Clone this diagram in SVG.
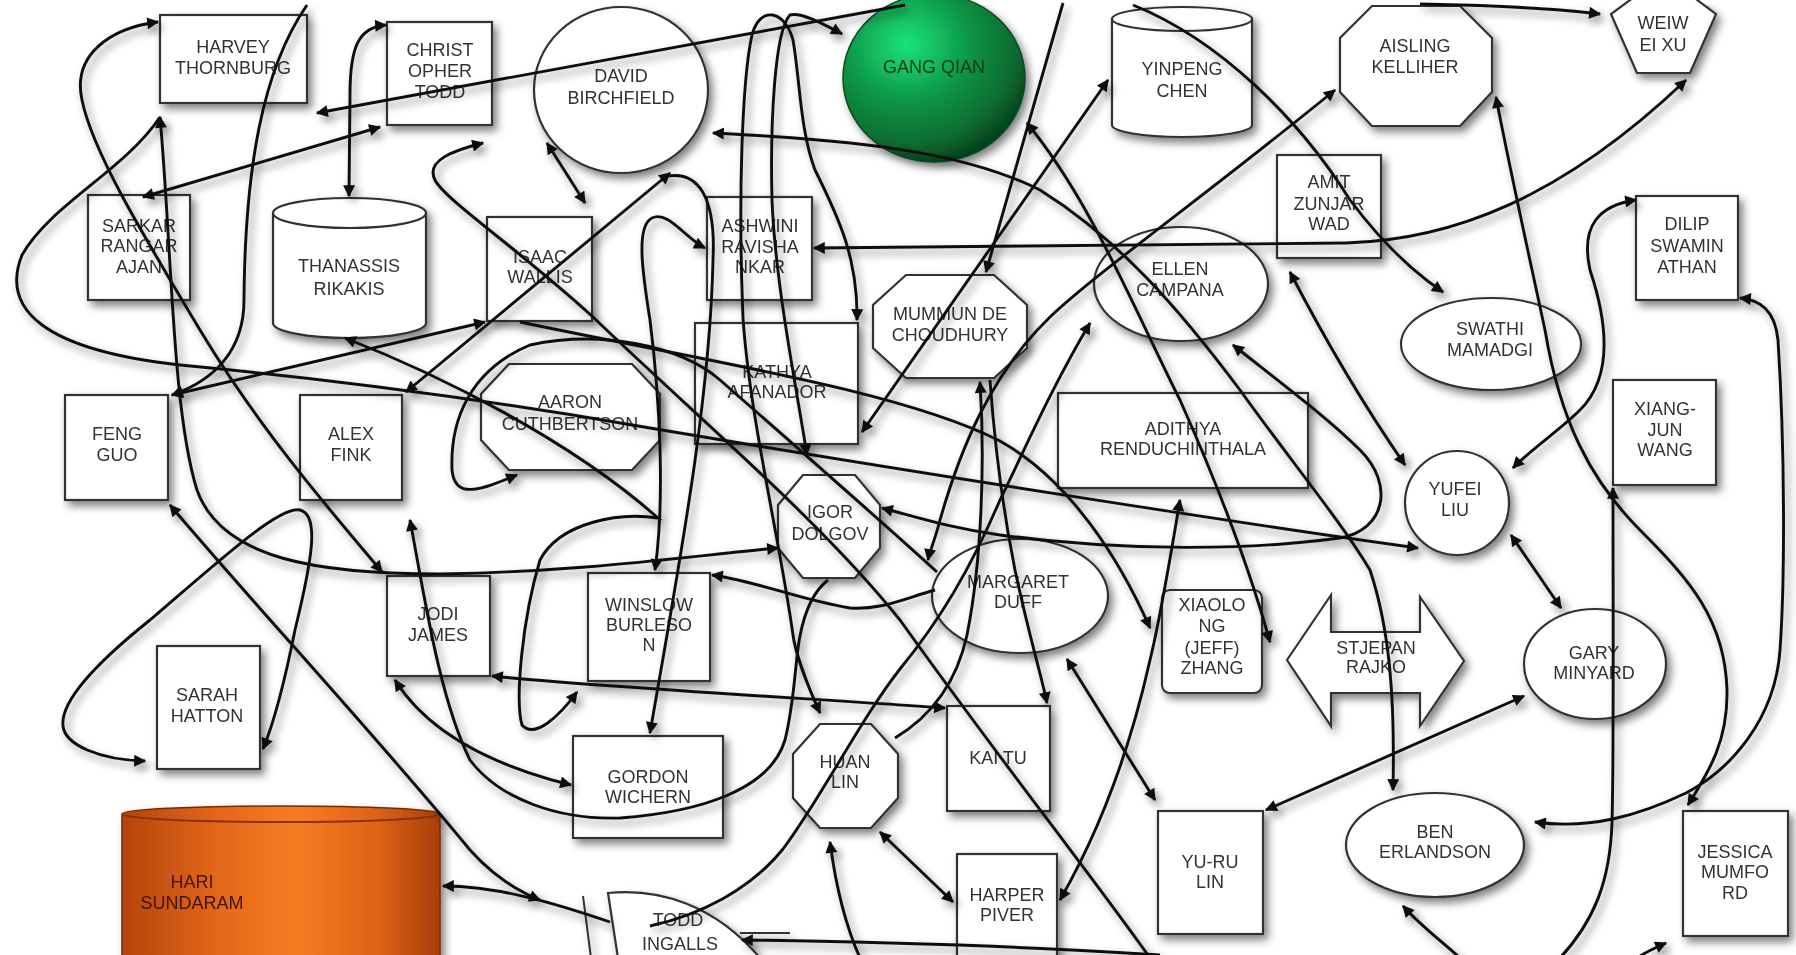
<svg xmlns="http://www.w3.org/2000/svg" width="1796" height="955" viewBox="0 0 1796 955">
<defs>
<style>
.n{fill:#fff;stroke:#333;stroke-width:2.2}
.t{font-family:"Liberation Sans",Arial,sans-serif;font-size:18px;fill:#333;text-anchor:middle}
.c path{fill:none;stroke:#111;stroke-width:2.9}
.b{marker-start:url(#a);marker-end:url(#a)}
.e{marker-end:url(#a)}
.s{marker-start:url(#a)}
</style>
<filter id="sh" filterUnits="userSpaceOnUse" x="0" y="0" width="1796" height="955">
<feGaussianBlur in="SourceAlpha" stdDeviation="4"/>
<feOffset dx="4" dy="5"/>
<feComponentTransfer><feFuncA type="linear" slope="0.5"/></feComponentTransfer>
<feMerge><feMergeNode/><feMergeNode in="SourceGraphic"/></feMerge>
</filter>
<marker id="a" viewBox="0 0 10 10" refX="9" refY="5" markerWidth="17" markerHeight="12" markerUnits="userSpaceOnUse" orient="auto-start-reverse">
<path d="M0,0 L10,5 L0,10 z" fill="#111"/>
</marker>
<radialGradient id="g" cx="0.35" cy="0.3" r="0.75">
<stop offset="0" stop-color="#1ae37c"/>
<stop offset="0.45" stop-color="#0e9746"/>
<stop offset="0.8" stop-color="#096a30"/>
<stop offset="1" stop-color="#053d1a"/>
</radialGradient>
<linearGradient id="o" x1="0" y1="0" x2="1" y2="0">
<stop offset="0" stop-color="#b5440c"/>
<stop offset="0.3" stop-color="#e3671a"/>
<stop offset="0.55" stop-color="#f97c22"/>
<stop offset="0.8" stop-color="#dd6318"/>
<stop offset="1" stop-color="#a93e08"/>
</linearGradient>
</defs>
<rect width="1796" height="955" fill="#fff"/>
<g id="nodes" filter="url(#sh)">
<g id="harvey"><rect class="n" x="160" y="15" width="147" height="88"/><text class="t"><tspan x="233" y="53">HARVEY</tspan><tspan x="233" y="74">THORNBURG</tspan></text></g>
<g id="christopher"><rect class="n" x="387" y="22" width="105" height="103"/><text class="t"><tspan x="440" y="56">CHRIST</tspan><tspan x="440" y="77">OPHER</tspan><tspan x="440" y="98">TODD</tspan></text></g>
<g id="david"><ellipse class="n" cx="621" cy="90" rx="87" ry="83"/><text class="t"><tspan x="621" y="82">DAVID</tspan><tspan x="621" y="104">BIRCHFIELD</tspan></text></g>
<g id="gang"><ellipse cx="934" cy="78" rx="91" ry="84" fill="url(#g)" stroke="#0a4a20" stroke-width="1.5"/><text class="t" x="934" y="73" style="fill:#0a3a18">GANG QIAN</text></g>
<g id="yinpeng"><path class="n" d="M1112,19 A70,12 0 0 1 1252,19 L1252,125 A70,12 0 0 1 1112,125 Z"/><path class="n" d="M1112,19 A70,12 0 0 0 1252,19" fill="none"/><text class="t"><tspan x="1182" y="75">YINPENG</tspan><tspan x="1182" y="97">CHEN</tspan></text></g>
<g id="aisling"><polygon class="n" points="1372,6 1460,6 1492,38 1492,92 1460,126 1372,126 1340,92 1340,38"/><text class="t"><tspan x="1415" y="52">AISLING</tspan><tspan x="1415" y="73">KELLIHER</tspan></text></g>
<g id="weiwei"><polygon class="n" points="1664,-25 1716,14 1690,73 1637,73 1611,14"/><text class="t"><tspan x="1663" y="29">WEIW</tspan><tspan x="1663" y="51">EI XU</tspan></text></g>
<g id="sarkar"><rect class="n" x="88" y="195" width="102" height="105"/><text class="t"><tspan x="139" y="232">SARKAR</tspan><tspan x="139" y="252">RANGAR</tspan><tspan x="139" y="273">AJAN</tspan></text></g>
<g id="thanassis"><path class="n" d="M273,213 A76.5,15 0 0 1 426,213 L426,323 A76.5,15 0 0 1 273,323 Z"/><path class="n" d="M273,213 A76.5,15 0 0 0 426,213" fill="none"/><text class="t"><tspan x="349" y="272">THANASSIS</tspan><tspan x="349" y="295">RIKAKIS</tspan></text></g>
<g id="isaac"><rect class="n" x="487" y="217" width="105" height="104"/><text class="t"><tspan x="540" y="263">ISAAC</tspan><tspan x="540" y="283">WALLIS</tspan></text></g>
<g id="ashwini"><rect class="n" x="707" y="197" width="105" height="103"/><text class="t"><tspan x="760" y="232">ASHWINI</tspan><tspan x="760" y="253">RAVISHA</tspan><tspan x="760" y="273">NKAR</tspan></text></g>
<g id="amit"><rect class="n" x="1277" y="155" width="104" height="103"/><text class="t"><tspan x="1329" y="188">AMIT</tspan><tspan x="1329" y="210">ZUNJAR</tspan><tspan x="1329" y="230">WAD</tspan></text></g>
<g id="dilip"><rect class="n" x="1636" y="196" width="102" height="104"/><text class="t"><tspan x="1687" y="230">DILIP</tspan><tspan x="1687" y="252">SWAMIN</tspan><tspan x="1687" y="273">ATHAN</tspan></text></g>
<g id="ellen"><ellipse class="n" cx="1181" cy="284" rx="87" ry="57"/><text class="t"><tspan x="1180" y="275">ELLEN</tspan><tspan x="1180" y="296">CAMPANA</tspan></text></g>
<g id="mummun"><polygon class="n" points="906,275 994,275 1027,305 1027,348 994,378 906,378 873,348 873,305"/><text class="t"><tspan x="950" y="320">MUMMUN DE</tspan><tspan x="950" y="341">CHOUDHURY</tspan></text></g>
<g id="swathi"><ellipse class="n" cx="1491" cy="344" rx="90" ry="46"/><text class="t"><tspan x="1490" y="335">SWATHI</tspan><tspan x="1490" y="356">MAMADGI</tspan></text></g>
<g id="xiangjun"><rect class="n" x="1613" y="380" width="103" height="105"/><text class="t"><tspan x="1665" y="415">XIANG-</tspan><tspan x="1665" y="436">JUN</tspan><tspan x="1665" y="456">WANG</tspan></text></g>
<g id="kathya"><rect class="n" x="695" y="323" width="163" height="121"/><text class="t"><tspan x="777" y="378">KATHYA</tspan><tspan x="777" y="398">AFANADOR</tspan></text></g>
<g id="aaron"><polygon class="n" points="509,364 632,364 660,394 660,440 632,470 509,470 481,440 481,394"/><text class="t"><tspan x="570" y="408">AARON</tspan><tspan x="570" y="430">CUTHBERTSON</tspan></text></g>
<g id="feng"><rect class="n" x="65" y="395" width="103" height="105"/><text class="t"><tspan x="117" y="440">FENG</tspan><tspan x="117" y="461">GUO</tspan></text></g>
<g id="alex"><rect class="n" x="300" y="395" width="102" height="105"/><text class="t"><tspan x="351" y="440">ALEX</tspan><tspan x="351" y="461">FINK</tspan></text></g>
<g id="adithya"><rect class="n" x="1058" y="393" width="250" height="95"/><text class="t"><tspan x="1183" y="435">ADITHYA</tspan><tspan x="1183" y="455">RENDUCHINTHALA</tspan></text></g>
<g id="igor"><polygon class="n" points="803,475 855,475 880,505 880,548 855,578 803,578 778,548 778,505"/><text class="t"><tspan x="830" y="518">IGOR</tspan><tspan x="830" y="540">DOLGOV</tspan></text></g>
<g id="yufei"><circle class="n" cx="1457" cy="503" r="52"/><text class="t"><tspan x="1455" y="495">YUFEI</tspan><tspan x="1455" y="516">LIU</tspan></text></g>
<g id="margaret"><ellipse class="n" cx="1020" cy="596" rx="88" ry="57"/><text class="t"><tspan x="1018" y="588">MARGARET</tspan><tspan x="1018" y="608">DUFF</tspan></text></g>
<g id="xiaolong"><rect class="n" x="1162" y="590" width="100" height="103" rx="8"/><text class="t"><tspan x="1212" y="611">XIAOLO</tspan><tspan x="1212" y="632">NG</tspan><tspan x="1212" y="654">(JEFF)</tspan><tspan x="1212" y="674">ZHANG</tspan></text></g>
<g id="stjepan"><polygon class="n" points="1287,660 1331,595 1331,632 1420,632 1420,597 1464,661 1420,726 1420,693 1331,693 1331,726"/><text class="t"><tspan x="1376" y="654">STJEPAN</tspan><tspan x="1376" y="673">RAJKO</tspan></text></g>
<g id="gary"><ellipse class="n" cx="1595" cy="664" rx="71" ry="55"/><text class="t"><tspan x="1594" y="659">GARY</tspan><tspan x="1594" y="679">MINYARD</tspan></text></g>
<g id="jodi"><rect class="n" x="387" y="576" width="103" height="100"/><text class="t"><tspan x="438" y="620">JODI</tspan><tspan x="438" y="641">JAMES</tspan></text></g>
<g id="winslow"><rect class="n" x="588" y="573" width="122" height="108"/><text class="t"><tspan x="649" y="611">WINSLOW</tspan><tspan x="649" y="631">BURLESO</tspan><tspan x="649" y="651">N</tspan></text></g>
<g id="sarah"><rect class="n" x="157" y="646" width="103" height="123"/><text class="t"><tspan x="207" y="701">SARAH</tspan><tspan x="207" y="722">HATTON</tspan></text></g>
<g id="gordon"><rect class="n" x="573" y="736" width="150" height="102"/><text class="t"><tspan x="648" y="783">GORDON</tspan><tspan x="648" y="803">WICHERN</tspan></text></g>
<g id="huan"><polygon class="n" points="820,724 871,724 898,754 898,798 871,828 820,828 793,798 793,754"/><text class="t"><tspan x="845" y="768">HUAN</tspan><tspan x="845" y="788">LIN</tspan></text></g>
<g id="kaitu"><rect class="n" x="947" y="706" width="103" height="105"/><text class="t" x="998" y="764">KAI TU</text></g>
<g id="harper"><rect class="n" x="957" y="854" width="100" height="110"/><text class="t"><tspan x="1007" y="901">HARPER</tspan><tspan x="1007" y="921">PIVER</tspan></text></g>
<g id="yuru"><rect class="n" x="1158" y="811" width="105" height="123"/><text class="t"><tspan x="1210" y="868">YU-RU</tspan><tspan x="1210" y="888">LIN</tspan></text></g>
<g id="ben"><ellipse class="n" cx="1435" cy="845" rx="89" ry="52"/><text class="t"><tspan x="1435" y="838">BEN</tspan><tspan x="1435" y="858">ERLANDSON</tspan></text></g>
<g id="jessica"><rect class="n" x="1683" y="811" width="105" height="125"/><text class="t"><tspan x="1735" y="858">JESSICA</tspan><tspan x="1735" y="878">MUMFO</tspan><tspan x="1735" y="899">RD</tspan></text></g>
<g id="hari"><path d="M122,814 A159,8 0 0 1 440,814 L440,970 L122,970 Z" fill="url(#o)" stroke="#7a2a04" stroke-width="1.5"/><path d="M122,814 A159,8 0 0 0 440,814" fill="none" stroke="#8a3206" stroke-width="2"/><text class="t" style="fill:#3f1200"><tspan x="192" y="888">HARI</tspan><tspan x="192" y="909">SUNDARAM</tspan></text></g>
<g id="todd"><path class="n" d="M608,893 C660,888 715,905 760,958 L618,958 Z"/><path d="M583,896 L591,958 M740,933 L790,933" stroke="#333" stroke-width="2" fill="none"/><text class="t"><tspan x="678" y="926">TODD</tspan><tspan x="680" y="950">INGALLS</tspan></text></g>
</g>
<g id="connectors" class="c" filter="url(#sh)">
<path class="b" d="M158,22 C110,28 72,55 82,100 C92,150 140,230 200,330 C260,430 330,510 382,572"/>
<path class="b" d="M143,197 L380,127"/>
<path class="e" d="M905,5 L317,113"/>
<path class="b" d="M386,25 C358,27 350,48 350,95 L349,196"/>
<path class="b" d="M160,117 C172,250 172,410 197,490 C222,560 320,574 440,574 C580,572 690,556 778,548"/>
<path class="e" d="M160,117 C125,170 50,205 22,255 C0,310 45,350 180,365 C340,380 490,400 650,428 C900,470 1250,525 1418,548"/>
<path class="e" d="M307,5 C262,70 245,170 244,300 C244,350 215,380 172,395"/>
<path class="b" d="M172,395 L485,322"/>
<path class="b" d="M345,338 C440,375 570,440 658,518 C620,512 560,522 540,560 C522,620 515,700 522,725 C535,740 560,715 577,692"/>
<path class="b" d="M547,143 L585,203"/>
<path class="b" d="M670,173 L406,392"/>
<path class="s" d="M483,143 C455,150 425,160 435,180 C445,200 520,250 593,317 C700,420 820,520 900,620 C1000,760 1080,860 1150,958"/>
<path class="b" d="M705,248 C685,238 668,210 652,218 C636,226 642,270 650,320 C660,400 665,500 655,570"/>
<path class="e" d="M663,177 C700,168 716,200 713,260 C710,400 680,560 650,733"/>
<path class="b" d="M713,133 C850,140 960,150 1040,190 C1120,240 1180,310 1240,390 C1290,460 1340,520 1370,570 C1390,630 1395,700 1393,790"/>
<path class="b" d="M1027,123 C1090,200 1130,300 1180,400 C1220,490 1250,570 1270,642"/>
<path class="b" d="M814,248 L1346,243 C1450,240 1560,200 1686,80"/>
<path class="e" d="M990,380 C995,450 1005,520 1015,570 C1030,640 1040,670 1047,703"/>
<path class="b" d="M1108,80 L862,432"/>
<path class="e" d="M1063,3 L986,272"/>
<path class="s" d="M1090,323 C1050,390 1020,460 1000,500 C970,570 940,620 900,669 C860,720 820,800 783,849 C750,890 700,915 650,926"/>
<path class="b" d="M1335,90 C1200,200 1100,270 1050,317 C990,375 960,450 940,520 C935,540 930,550 928,560"/>
<path class="s" d="M410,520 C425,600 440,700 470,760 C500,800 560,820 620,818 C700,812 770,790 785,740 C795,700 795,660 800,636 C805,610 815,590 828,580"/>
<path class="b" d="M1496,97 C1510,170 1530,260 1545,330 C1560,420 1590,480 1640,530 C1690,580 1725,620 1727,690 C1728,740 1710,770 1688,805"/>
<path class="b" d="M1740,298 C1760,300 1775,310 1778,340 C1785,450 1785,580 1780,650 C1775,720 1730,770 1686,793 C1640,815 1590,830 1535,822"/>
<path class="b" d="M1636,200 C1600,205 1580,225 1590,270 C1610,330 1610,380 1580,410 C1560,430 1530,450 1513,468"/>
<path class="b" d="M1511,535 L1561,608"/>
<path class="e" d="M1133,5 C1220,40 1300,120 1350,200 C1380,240 1410,270 1443,292"/>
<path class="b" d="M1233,345 C1290,390 1330,420 1360,450 C1395,485 1385,530 1340,538 C1250,550 1130,552 1000,535 C950,528 920,518 882,508"/>
<path class="b" d="M1290,272 C1320,330 1360,400 1405,465"/>
<path class="b" d="M1180,500 C1170,560 1160,620 1150,660 C1130,750 1100,830 1060,900"/>
<path class="b" d="M1067,659 L1155,800"/>
<path class="s" d="M980,382 C985,460 982,560 967,635 C955,690 925,720 895,738"/>
<path class="b" d="M820,713 C805,680 795,650 793,635 C780,540 750,420 743,318 C738,200 742,80 752,35 C760,5 785,10 793,40 C800,80 800,130 815,170 C840,220 858,260 857,320"/>
<path class="b" d="M842,34 C820,22 800,12 790,15 C775,30 770,120 772,200 C775,280 795,380 807,455"/>
<path class="s" d="M712,575 C760,582 800,600 850,608 C880,610 900,600 935,590"/>
<path class="e" d="M520,322 C700,360 900,390 1000,441 C1070,480 1120,560 1150,628"/>
<path class="b" d="M170,505 C250,600 380,740 470,850 C495,878 520,892 540,900"/>
<path class="s" d="M443,886 C500,886 560,905 610,922"/>
<path class="s" d="M742,940 C900,942 1050,948 1160,955"/>
<path class="b" d="M880,832 L953,902"/>
<path class="s" d="M830,842 C835,880 843,920 860,958"/>
<path class="b" d="M492,676 C583,686 817,699 945,708"/>
<path class="b" d="M395,680 C420,720 470,760 571,785"/>
<path class="b" d="M1524,696 L1266,810"/>
<path class="s" d="M1613,488 C1613,600 1614,750 1612,823 C1610,880 1595,920 1560,958"/>
<path class="s" d="M1403,906 C1420,925 1440,940 1460,958"/>
<path class="s" d="M1666,943 C1650,950 1640,955 1635,960"/>
<path class="b" d="M145,761 C100,760 65,745 63,726 C60,700 100,660 150,620 C220,560 280,505 300,510 C320,515 312,560 295,630 C285,680 275,720 263,749"/>
<path class="s" d="M517,475 C480,490 455,500 452,470 C450,420 470,370 530,345 C600,330 680,345 720,380 C800,450 880,520 937,572"/>
<path class="e" d="M1420,4 C1480,5 1540,7 1600,14"/>
</g>
</svg>
